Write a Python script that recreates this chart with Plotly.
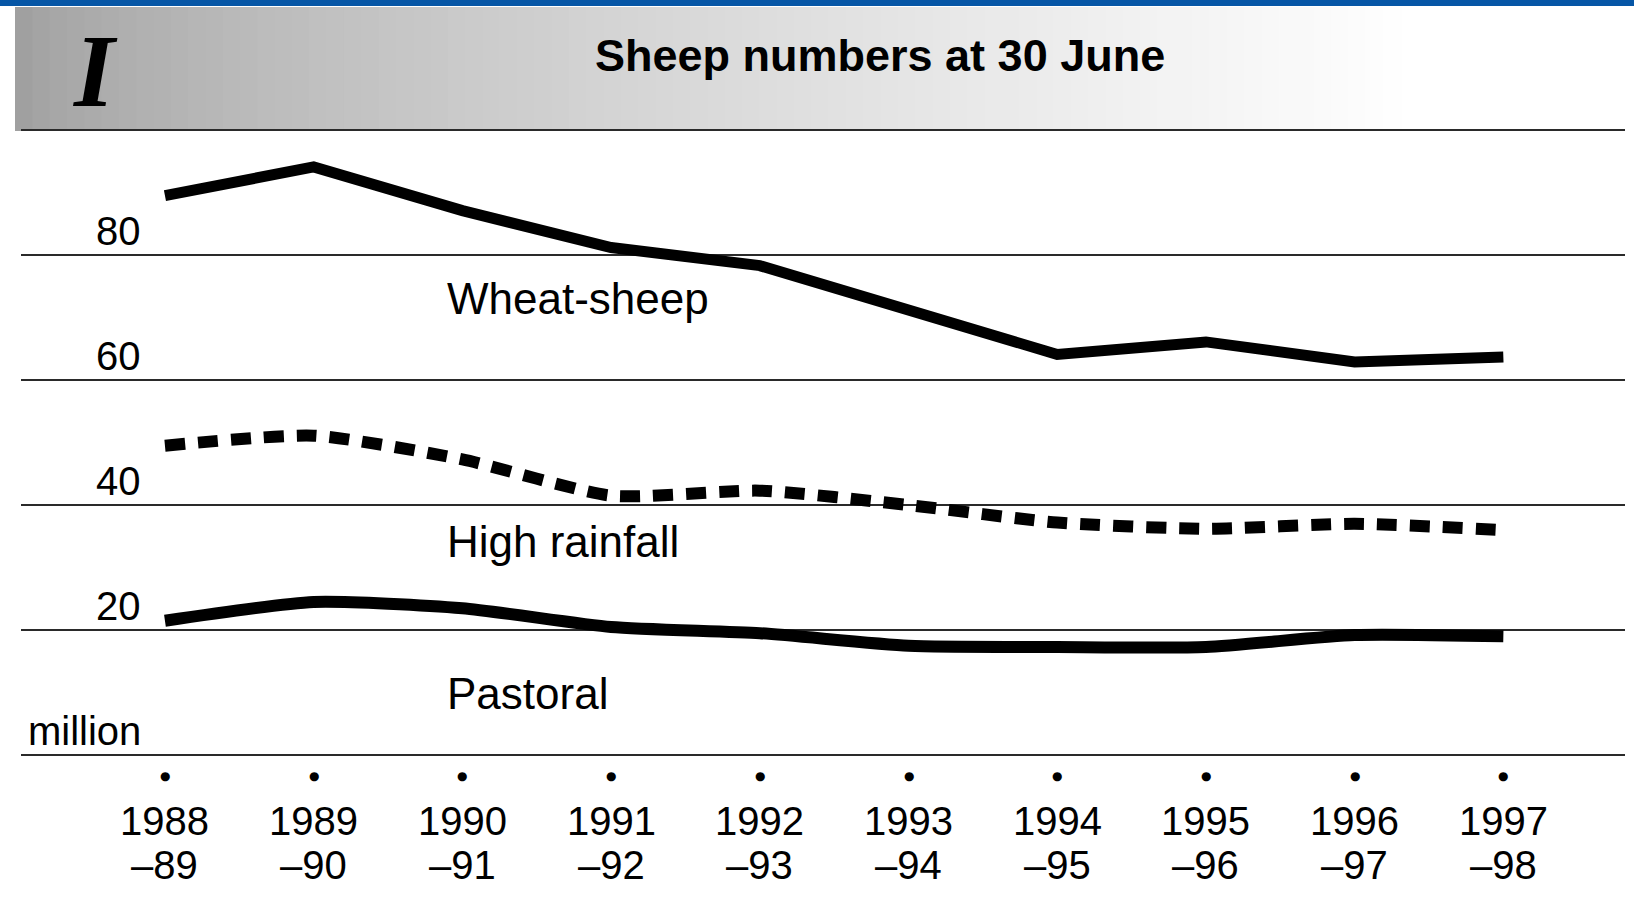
import plotly.graph_objects as go

# sheep numbers at 30 June, million
seasons = ["1988-89", "1989-90", "1990-91", "1991-92", "1992-93",
           "1993-94", "1994-95", "1995-96", "1996-97", "1997-98"]
wheat_sheep = [89.5, 94.1, 87.1, 81.2, 78.3, 71.2, 64.1, 66.1, 62.9, 63.7]
high_rainfall = [49.5, 51.1, 47.3, 41.5, 42.3, 40.0, 37.2, 36.2, 37.0, 36.0]
pastoral = [21.5, 24.5, 23.5, 20.5, 19.5, 17.5, 17.3, 17.3, 19.2, 19.0]

grid_values = [0, 20, 40, 60, 80, 100]
y_tick_values = [0, 20, 40, 60, 80]
y_tick_labels = ["million", "20", "40", "60", "80"]

SANS = "Liberation Sans, Arial, sans-serif"
W, H = 1634, 922
ML, MR = 21, 9


def px_x(p):
    return (p - ML) / (W - ML - MR)


def px_y(p):
    return 1 - p / H


fig = go.Figure()
fig.add_scatter(x=seasons, y=wheat_sheep, mode="lines",
                line=dict(color="black", width=11), name="Wheat-sheep")
fig.add_scatter(x=seasons, y=high_rainfall, mode="lines",
                line=dict(color="black", width=12, dash="20px,13px",
                          shape="spline", smoothing=0.6),
                name="High rainfall")
fig.add_scatter(x=seasons, y=pastoral, mode="lines",
                line=dict(color="black", width=12, shape="spline", smoothing=0.6),
                name="Pastoral")

# header band: grey fade from left to right, blue strip on top
shapes = []
n_strips = 80
x_start, x_end = 15, 1400
for i in range(n_strips):
    t = i / n_strips
    g = int(160 + (255 - 160) * t ** 0.7)
    shapes.append(dict(
        type="rect", xref="paper", yref="paper", layer="below",
        x0=px_x(x_start + (x_end - x_start) * t),
        x1=px_x(x_start + (x_end - x_start) * (i + 1) / n_strips) + 0.001,
        y0=px_y(131), y1=px_y(7),
        fillcolor=f"rgb({g},{g},{g})", line=dict(width=0),
    ))
shapes.append(dict(type="rect", xref="paper", yref="paper",
                   x0=px_x(0), x1=px_x(W), y0=px_y(6), y1=1.0,
                   fillcolor="#0656a6", line=dict(width=0)))

annotations = []
annotations.append(dict(text="<i><b>I</b></i>", xref="paper", yref="paper",
                        x=px_x(95), y=px_y(71), xanchor="center", yanchor="middle",
                        showarrow=False,
                        font=dict(family="Liberation Serif, serif", size=104, color="black")))
annotations.append(dict(text="<b>Sheep numbers at 30 June</b>", xref="paper", yref="paper",
                        x=px_x(880), y=px_y(55), xanchor="center", yanchor="middle",
                        showarrow=False,
                        font=dict(family=SANS, size=45, color="black")))

for v, lab in zip(y_tick_values, y_tick_labels):
    annotations.append(dict(text=lab, xref="paper", yref="y", x=px_x(143), y=v,
                            xanchor="right", yanchor="bottom", showarrow=False,
                            font=dict(family=SANS, size=40, color="black")))

for name, y in [("Wheat-sheep", 73), ("High rainfall", 34.1), ("Pastoral", 9.9)]:
    annotations.append(dict(text=name, xref="paper", yref="y", x=px_x(445), y=y,
                            xanchor="left", yanchor="middle", showarrow=False,
                            font=dict(family=SANS, size=44, color="black")))

for s in seasons:
    start, end = s.split("-")
    annotations.append(dict(text="●", xref="x", yref="y", x=s, y=-3.4,
                            showarrow=False, font=dict(family="DejaVu Sans", size=12, color="black")))
    annotations.append(dict(text=start, xref="x", yref="y", x=s, y=-10.6,
                            showarrow=False, font=dict(family=SANS, size=40, color="black")))
    annotations.append(dict(text="\u2013" + end, xref="x", yref="y", x=s, y=-17.6,
                            showarrow=False, font=dict(family=SANS, size=40, color="black")))

fig.update_layout(
    width=W, height=H,
    margin=dict(l=ML, r=MR, t=0, b=0),
    paper_bgcolor="white", plot_bgcolor="rgba(0,0,0,0)",
    showlegend=False,
    shapes=shapes, annotations=annotations,
    xaxis=dict(type="category", range=[-0.968, 9.818], showgrid=False,
               showticklabels=False, zeroline=False, showline=False, ticks=""),
    yaxis=dict(range=[-26.7, 120.8], tickvals=grid_values, showticklabels=False,
               showgrid=True, gridcolor="#2a2a2a", gridwidth=2,
               zeroline=False, showline=False, ticks=""),
)

fig.write_html("out.html", config={"displayModeBar": False},
               post_script="document.body.style.margin = '0px';")
